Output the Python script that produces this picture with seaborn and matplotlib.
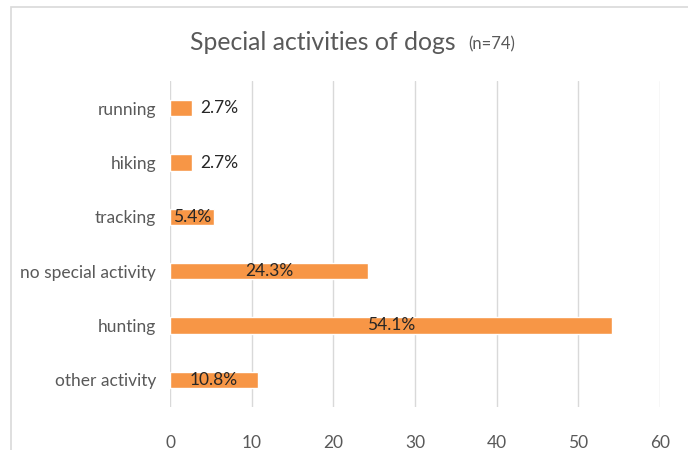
import matplotlib
matplotlib.use("Agg")
import matplotlib.pyplot as plt
import matplotlib.patches as mpatches
import seaborn as sns
import pandas as pd

categories = ["running", "hiking", "tracking", "no special activity", "hunting", "other activity"]
shares = [2.7, 2.7, 5.4, 24.3, 54.1, 10.8]
x_ticks = [0, 10, 20, 30, 40, 50, 60]

sns.set_style("white")
plt.rcParams["font.family"] = ["Lato", "DejaVu Sans"]

df = pd.DataFrame({"activity": categories, "share": shares})

W, H = 688, 450
fig = plt.figure(figsize=(W / 100, H / 100), dpi=100)
ax = fig.add_axes([170 / W, 1 - 407 / H, 490 / W, 326 / H])

sns.barplot(data=df, x="share", y="activity", orient="h", color="#F79646",
            saturation=1, width=0.3, ax=ax, zorder=3)

ax.set_xlim(0, 60)
ax.set_ylim(5.5, -0.5)
ax.set_xticks(x_ticks)
ax.set_xticklabels([str(t) for t in x_ticks])
ax.set_xlabel("")
ax.set_ylabel("")
ax.grid(axis="x", color="#D9D9D9", linewidth=1, zorder=0)
ax.grid(axis="y", visible=False)
for s in ax.spines.values():
    s.set_visible(False)
ax.tick_params(axis="x", length=0, pad=20, labelsize=12.5, labelcolor="#595959")
ax.tick_params(axis="y", length=0, pad=10, labelsize=12.5, labelcolor="#595959")

# value labels: short bars get the label just past the bar end, others centred
for i, v in enumerate(shares):
    txt = f"{v:.1f}%"
    if v < 4:
        ax.annotate(txt, (v, i), xytext=(6, 0), textcoords="offset points",
                    ha="left", va="center", fontsize=12.5, color="#262626", zorder=4)
    else:
        ax.text(v / 2, i, txt, ha="center", va="center", fontsize=12.5,
                color="#262626", zorder=4)

# title with smaller sample-size note
fig.text(190 / W, 1 - 43 / H, "Special activities of dogs", ha="left", va="center",
         fontsize=17.8, color="#595959")
fig.text(468 / W, 1 - 44 / H, "(n=74)", ha="left", va="center",
         fontsize=12, color="#595959")

# chart frame
frame = mpatches.Rectangle((10.5 / W, -0.05), 1.1, 1 - 7 / H + 0.05,
                           transform=fig.transFigure, fill=False,
                           edgecolor="#D9D9D9", linewidth=1.2, clip_on=False)
fig.patches.append(frame)

fig.savefig("out.png", dpi=100, facecolor="white")
